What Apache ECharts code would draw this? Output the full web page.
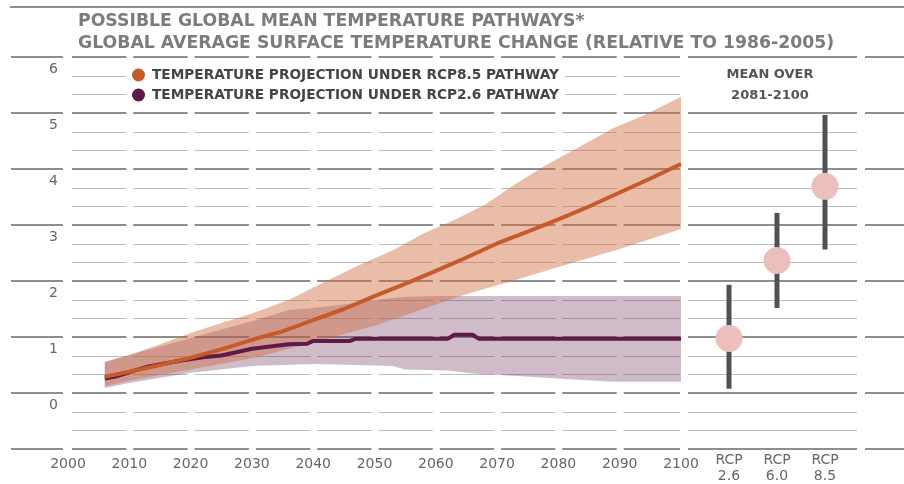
<!DOCTYPE html>
<html>
<head>
<meta charset="utf-8">
<script src="https://cdn.jsdelivr.net/npm/echarts@6.0.0/dist/echarts.min.js"></script>
<style>
  html, body { margin: 0; padding: 0; background: #fff; }
  #chart { width: 904px; height: 484px; }
</style>
</head>
<body>
<div id="chart"></div>
<script>
// ---- data ----
var xTicks = [2000, 2010, 2020, 2030, 2040, 2050, 2060, 2070, 2080, 2090, 2100];

// RCP8.5 mean line
var years85 = [2006, 2010, 2015, 2020, 2025, 2030, 2035, 2040, 2045, 2050, 2055, 2060, 2065, 2070, 2075, 2080, 2085, 2090, 2095, 2100];
var mean85 = [0.29, 0.38, 0.50, 0.63, 0.78, 0.95, 1.10, 1.30, 1.50, 1.73, 1.95, 2.18, 2.42, 2.67, 2.88, 3.10, 3.33, 3.58, 3.83, 4.09];
// RCP8.5 band
var upYears85 = [2006, 2010, 2015, 2020, 2025, 2030, 2036, 2042, 2047, 2053, 2058, 2063, 2068, 2073, 2078, 2083, 2089, 2094, 2100];
var upper85 = [0.56, 0.68, 0.87, 1.07, 1.25, 1.42, 1.66, 1.99, 2.26, 2.55, 2.85, 3.09, 3.36, 3.73, 4.07, 4.37, 4.73, 4.96, 5.29];
var loYears85 = [2006, 2010, 2020, 2030, 2040, 2050, 2058, 2064, 2073, 2080, 2090, 2100];
var lower85 = [0.12, 0.22, 0.42, 0.62, 0.90, 1.20, 1.50, 1.73, 2.02, 2.25, 2.57, 2.93];

// RCP2.6 mean line
var years26 = [2006, 2008, 2010, 2013, 2016, 2019, 2022, 2025, 2028, 2030, 2033, 2036, 2039, 2040, 2046, 2047, 2062, 2063, 2066, 2067, 2100];
var mean26 = [0.26, 0.30, 0.37, 0.47, 0.53, 0.59, 0.64, 0.67, 0.74, 0.79, 0.83, 0.87, 0.88, 0.93, 0.93, 0.97, 0.97, 1.04, 1.04, 0.97, 0.97];
// RCP2.6 band
var upYears26 = [2006, 2010, 2020, 2030, 2036, 2040, 2045, 2050, 2055, 2060, 2100];
var upper26 = [0.55, 0.68, 0.98, 1.28, 1.48, 1.52, 1.58, 1.66, 1.72, 1.73, 1.73];
var loYears26 = [2006, 2010, 2020, 2030, 2040, 2050, 2053, 2055, 2062, 2066, 2074, 2081, 2089, 2100];
var lower26 = [0.09, 0.18, 0.36, 0.48, 0.52, 0.49, 0.48, 0.42, 0.40, 0.35, 0.30, 0.25, 0.20, 0.20];

// mean over 2081-2100
var rcpLabels = ['RCP\n2.6', 'RCP\n6.0', 'RCP\n8.5'];
var rcpMean = [0.91, 2.32, 3.66];
var rcpLow = [0.00, 1.46, 2.52];
var rcpHigh = [1.88, 3.18, 4.95];

var name85 = 'TEMPERATURE PROJECTION UNDER RCP8.5 PATHWAY';
var name26 = 'TEMPERATURE PROJECTION UNDER RCP2.6 PATHWAY';
var font = 'DejaVu Sans';

function pairs(xs, ys) {
  return xs.map(function (x, i) { return [x, ys[i]]; });
}

// band polygon: upper edge left->right, lower edge right->left
function bandItem(upYears, up, loYears, lo, fill) {
  return function (params, api) {
    if (params.dataIndex !== 0) return null;
    var pts = [];
    upYears.forEach(function (y, i) { pts.push(api.coord([y, up[i]])); });
    for (var i = loYears.length - 1; i >= 0; i--) {
      pts.push(api.coord([loYears[i], lo[i]]));
    }
    return { type: 'polygon', shape: { points: pts }, style: { fill: fill } };
  };
}

var chart = echarts.init(document.getElementById('chart'));

var option = {
  animation: false,
  title: {
    text: 'POSSIBLE GLOBAL MEAN TEMPERATURE PATHWAYS*\nGLOBAL AVERAGE SURFACE TEMPERATURE CHANGE (RELATIVE TO 1986-2005)',
    left: 78,
    top: 11,
    padding: 0,
    textStyle: {
      fontFamily: font,
      fontWeight: 'bold',
      fontSize: 17.3,
      lineHeight: 22,
      color: '#7c7c7c'
    }
  },
  legend: {
    data: [name85, name26],
    orient: 'vertical',
    left: 127,
    top: 63,
    padding: [5, 6, 5, 5],
    icon: 'circle',
    itemWidth: 13,
    itemHeight: 13,
    itemGap: 6,
    selectedMode: false,
    backgroundColor: '#fff',
    z: 10,
    textStyle: {
      fontFamily: font,
      fontWeight: 'bold',
      fontSize: 13.7,
      color: '#454545',
      padding: [0, 0, 0, 2]
    }
  },
  grid: [
    { left: 68, top: 57, width: 613, height: 392 },
    { left: 705, top: 57, width: 144, height: 392 }
  ],
  xAxis: [{
    type: 'value',
    gridIndex: 0,
    min: 2000,
    max: 2100,
    interval: 10,
    axisLine: { show: false },
    axisTick: { show: false },
    splitLine: { show: false },
    axisLabel: {
      margin: 8, fontFamily: font, fontSize: 14, color: '#666',
      formatter: function (v) { return String(v); }
    }
  }, {
    type: 'category',
    gridIndex: 1,
    data: rcpLabels,
    axisLine: { show: false },
    axisTick: { show: false },
    splitLine: { show: false },
    axisLabel: { margin: 8, fontFamily: font, fontSize: 14, lineHeight: 16, color: '#666' }
  }],
  yAxis: [{
    type: 'value',
    gridIndex: 0,
    min: -1,
    max: 6,
    interval: 1,
    axisLine: { show: false },
    axisTick: { show: false },
    splitLine: { show: false },
    axisLabel: {
      margin: 10,
      verticalAlign: 'top',
      padding: [5, 0, 0, 0],
      fontFamily: font,
      fontSize: 14,
      color: '#666',
      formatter: function (v) { return v < 0 ? '' : String(v); }
    }
  }, {
    type: 'value',
    gridIndex: 1,
    min: -1,
    max: 6,
    interval: 1,
    show: false
  }],
  series: [{
    type: 'custom',
    z: 3,
    silent: true,
    data: pairs(upYears26, upper26),
    renderItem: bandItem(upYears26, upper26, loYears26, lower26, 'rgba(112,52,92,0.33)')
  }, {
    type: 'custom',
    z: 3,
    silent: true,
    data: pairs(upYears85, upper85),
    renderItem: bandItem(upYears85, upper85, loYears85, lower85, 'rgba(208,108,62,0.45)')
  }, {
    name: name26,
    type: 'line',
    z: 5,
    color: '#5e1a48',
    showSymbol: false,
    lineStyle: { width: 4, color: '#5e1a48' },
    data: pairs(years26, mean26)
  }, {
    name: name85,
    type: 'line',
    z: 6,
    color: '#c65a28',
    showSymbol: false,
    lineStyle: { width: 4, color: '#c65a28' },
    data: pairs(years85, mean85)
  }, {
    type: 'custom',
    xAxisIndex: 1,
    yAxisIndex: 1,
    z: 5,
    silent: true,
    data: rcpLabels.map(function (c, i) { return [i, rcpLow[i], rcpHigh[i]]; }),
    renderItem: function (params, api) {
      var top = api.coord([api.value(0), api.value(2)]);
      var bot = api.coord([api.value(0), api.value(1)]);
      return {
        type: 'rect',
        shape: { x: top[0] - 2.5, y: top[1], width: 5, height: bot[1] - top[1] },
        style: { fill: '#4f5254' }
      };
    }
  }, {
    type: 'scatter',
    xAxisIndex: 1,
    yAxisIndex: 1,
    z: 6,
    symbolSize: 27,
    itemStyle: { color: '#edbfbc', opacity: 1 },
    data: rcpMean.map(function (v, i) { return [i, v]; })
  }]
};

chart.setOption(option);

// segmented horizontal rules, placed through the y scale
var els = [];
function seg(x1, x2, y, major) {
  els.push({
    type: 'line',
    silent: true,
    z: 1,
    shape: { x1: x1, y1: y, x2: x2, y2: y },
    style: { stroke: major ? '#8e8e8e' : '#bcbcbc', lineWidth: major ? 2 : 1 }
  });
}
function px(x) { return chart.convertToPixel({ gridIndex: 0 }, [x, 0])[0]; }
function py(v) { return chart.convertToPixel({ gridIndex: 0 }, [2000, v])[1]; }

for (var k = 0; k <= 21; k++) {
  var v = -1 + k / 3;
  var major = k % 3 === 0;
  var y = major ? Math.round(py(v)) : Math.round(py(v)) + 0.5;
  if (major) seg(11, 63, y, true);
  for (var t = 0; t < xTicks.length - 1; t++) {
    var x1 = px(xTicks[t]) + 4;
    var x2 = t === xTicks.length - 2 ? px(xTicks[t + 1]) - 1 : px(xTicks[t + 1]) - 3;
    seg(x1, x2, y, major);
  }
  if (major || v < 5) seg(688, 857, y, major);
  if (major) seg(865, 904, y, true);
}
seg(10, 904, 7, true);

els.push({
  type: 'text', x: 770, y: 75, silent: true,
  style: { text: 'MEAN OVER', textAlign: 'center', textVerticalAlign: 'middle', fontFamily: font, fontWeight: 'bold', fontSize: 13, fill: '#555' }
});
els.push({
  type: 'text', x: 770, y: 96, silent: true,
  style: { text: '2081-2100', textAlign: 'center', textVerticalAlign: 'middle', fontFamily: font, fontWeight: 'bold', fontSize: 13, fill: '#555' }
});

chart.setOption({ graphic: { elements: els } });
</script>
</body>
</html>
